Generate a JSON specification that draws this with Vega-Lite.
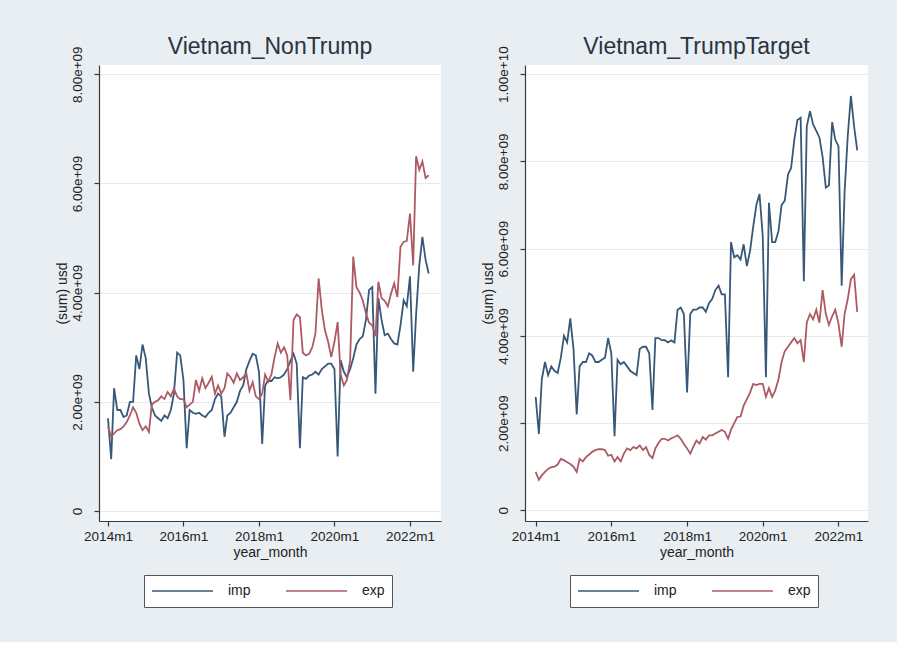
{
"$schema":"https://vega.github.io/schema/vega-lite/v6.json",
"background":"#e8eef2",
"padding":{"left":55,"top":35,"right":29,"bottom":34},
"datasets":{
"nontrump":[
{"d":"2014-01-01","s":"imp","v":1.70e9},{"d":"2014-01-01","s":"exp","v":1.55e9},
{"d":"2014-02-01","s":"imp","v":0.95e9},{"d":"2014-02-01","s":"exp","v":1.36e9},
{"d":"2014-03-01","s":"imp","v":2.25e9},{"d":"2014-03-01","s":"exp","v":1.42e9},
{"d":"2014-04-01","s":"imp","v":1.85e9},{"d":"2014-04-01","s":"exp","v":1.48e9},
{"d":"2014-05-01","s":"imp","v":1.85e9},{"d":"2014-05-01","s":"exp","v":1.50e9},
{"d":"2014-06-01","s":"imp","v":1.72e9},{"d":"2014-06-01","s":"exp","v":1.55e9},
{"d":"2014-07-01","s":"imp","v":1.75e9},{"d":"2014-07-01","s":"exp","v":1.63e9},
{"d":"2014-08-01","s":"imp","v":2.00e9},{"d":"2014-08-01","s":"exp","v":1.75e9},
{"d":"2014-09-01","s":"imp","v":2.00e9},{"d":"2014-09-01","s":"exp","v":1.90e9},
{"d":"2014-10-01","s":"imp","v":2.85e9},{"d":"2014-10-01","s":"exp","v":1.80e9},
{"d":"2014-11-01","s":"imp","v":2.60e9},{"d":"2014-11-01","s":"exp","v":1.60e9},
{"d":"2014-12-01","s":"imp","v":3.05e9},{"d":"2014-12-01","s":"exp","v":1.48e9},
{"d":"2015-01-01","s":"imp","v":2.80e9},{"d":"2015-01-01","s":"exp","v":1.55e9},
{"d":"2015-02-01","s":"imp","v":2.15e9},{"d":"2015-02-01","s":"exp","v":1.45e9},
{"d":"2015-03-01","s":"imp","v":1.90e9},{"d":"2015-03-01","s":"exp","v":1.95e9},
{"d":"2015-04-01","s":"imp","v":1.75e9},{"d":"2015-04-01","s":"exp","v":2.00e9},
{"d":"2015-05-01","s":"imp","v":1.70e9},{"d":"2015-05-01","s":"exp","v":2.03e9},
{"d":"2015-06-01","s":"imp","v":1.65e9},{"d":"2015-06-01","s":"exp","v":2.10e9},
{"d":"2015-07-01","s":"imp","v":1.75e9},{"d":"2015-07-01","s":"exp","v":2.05e9},
{"d":"2015-08-01","s":"imp","v":1.70e9},{"d":"2015-08-01","s":"exp","v":2.18e9},
{"d":"2015-09-01","s":"imp","v":1.85e9},{"d":"2015-09-01","s":"exp","v":2.10e9},
{"d":"2015-10-01","s":"imp","v":2.15e9},{"d":"2015-10-01","s":"exp","v":2.24e9},
{"d":"2015-11-01","s":"imp","v":2.90e9},{"d":"2015-11-01","s":"exp","v":2.10e9},
{"d":"2015-12-01","s":"imp","v":2.85e9},{"d":"2015-12-01","s":"exp","v":2.05e9},
{"d":"2016-01-01","s":"imp","v":2.40e9},{"d":"2016-01-01","s":"exp","v":2.05e9},
{"d":"2016-02-01","s":"imp","v":1.15e9},{"d":"2016-02-01","s":"exp","v":1.90e9},
{"d":"2016-03-01","s":"imp","v":1.85e9},{"d":"2016-03-01","s":"exp","v":1.95e9},
{"d":"2016-04-01","s":"imp","v":1.80e9},{"d":"2016-04-01","s":"exp","v":2.00e9},
{"d":"2016-05-01","s":"imp","v":1.78e9},{"d":"2016-05-01","s":"exp","v":2.40e9},
{"d":"2016-06-01","s":"imp","v":1.80e9},{"d":"2016-06-01","s":"exp","v":2.20e9},
{"d":"2016-07-01","s":"imp","v":1.75e9},{"d":"2016-07-01","s":"exp","v":2.43e9},
{"d":"2016-08-01","s":"imp","v":1.72e9},{"d":"2016-08-01","s":"exp","v":2.25e9},
{"d":"2016-09-01","s":"imp","v":1.80e9},{"d":"2016-09-01","s":"exp","v":2.35e9},
{"d":"2016-10-01","s":"imp","v":1.85e9},{"d":"2016-10-01","s":"exp","v":2.46e9},
{"d":"2016-11-01","s":"imp","v":2.05e9},{"d":"2016-11-01","s":"exp","v":2.15e9},
{"d":"2016-12-01","s":"imp","v":2.15e9},{"d":"2016-12-01","s":"exp","v":2.30e9},
{"d":"2017-01-01","s":"imp","v":2.10e9},{"d":"2017-01-01","s":"exp","v":2.15e9},
{"d":"2017-02-01","s":"imp","v":1.36e9},{"d":"2017-02-01","s":"exp","v":2.25e9},
{"d":"2017-03-01","s":"imp","v":1.75e9},{"d":"2017-03-01","s":"exp","v":2.52e9},
{"d":"2017-04-01","s":"imp","v":1.80e9},{"d":"2017-04-01","s":"exp","v":2.45e9},
{"d":"2017-05-01","s":"imp","v":1.90e9},{"d":"2017-05-01","s":"exp","v":2.35e9},
{"d":"2017-06-01","s":"imp","v":2.00e9},{"d":"2017-06-01","s":"exp","v":2.52e9},
{"d":"2017-07-01","s":"imp","v":2.20e9},{"d":"2017-07-01","s":"exp","v":2.40e9},
{"d":"2017-08-01","s":"imp","v":2.30e9},{"d":"2017-08-01","s":"exp","v":2.45e9},
{"d":"2017-09-01","s":"imp","v":2.60e9},{"d":"2017-09-01","s":"exp","v":2.52e9},
{"d":"2017-10-01","s":"imp","v":2.75e9},{"d":"2017-10-01","s":"exp","v":2.20e9},
{"d":"2017-11-01","s":"imp","v":2.88e9},{"d":"2017-11-01","s":"exp","v":2.36e9},
{"d":"2017-12-01","s":"imp","v":2.85e9},{"d":"2017-12-01","s":"exp","v":2.10e9},
{"d":"2018-01-01","s":"imp","v":2.55e9},{"d":"2018-01-01","s":"exp","v":2.05e9},
{"d":"2018-02-01","s":"imp","v":1.23e9},{"d":"2018-02-01","s":"exp","v":2.15e9},
{"d":"2018-03-01","s":"imp","v":2.30e9},{"d":"2018-03-01","s":"exp","v":2.50e9},
{"d":"2018-04-01","s":"imp","v":2.40e9},{"d":"2018-04-01","s":"exp","v":2.37e9},
{"d":"2018-05-01","s":"imp","v":2.38e9},{"d":"2018-05-01","s":"exp","v":2.50e9},
{"d":"2018-06-01","s":"imp","v":2.45e9},{"d":"2018-06-01","s":"exp","v":2.82e9},
{"d":"2018-07-01","s":"imp","v":2.43e9},{"d":"2018-07-01","s":"exp","v":3.07e9},
{"d":"2018-08-01","s":"imp","v":2.45e9},{"d":"2018-08-01","s":"exp","v":2.90e9},
{"d":"2018-09-01","s":"imp","v":2.50e9},{"d":"2018-09-01","s":"exp","v":3.00e9},
{"d":"2018-10-01","s":"imp","v":2.60e9},{"d":"2018-10-01","s":"exp","v":2.85e9},
{"d":"2018-11-01","s":"imp","v":2.75e9},{"d":"2018-11-01","s":"exp","v":2.03e9},
{"d":"2018-12-01","s":"imp","v":2.88e9},{"d":"2018-12-01","s":"exp","v":3.50e9},
{"d":"2019-01-01","s":"imp","v":2.70e9},{"d":"2019-01-01","s":"exp","v":3.60e9},
{"d":"2019-02-01","s":"imp","v":1.15e9},{"d":"2019-02-01","s":"exp","v":3.55e9},
{"d":"2019-03-01","s":"imp","v":2.45e9},{"d":"2019-03-01","s":"exp","v":2.90e9},
{"d":"2019-04-01","s":"imp","v":2.42e9},{"d":"2019-04-01","s":"exp","v":2.85e9},
{"d":"2019-05-01","s":"imp","v":2.48e9},{"d":"2019-05-01","s":"exp","v":2.88e9},
{"d":"2019-06-01","s":"imp","v":2.50e9},{"d":"2019-06-01","s":"exp","v":3.00e9},
{"d":"2019-07-01","s":"imp","v":2.55e9},{"d":"2019-07-01","s":"exp","v":3.25e9},
{"d":"2019-08-01","s":"imp","v":2.50e9},{"d":"2019-08-01","s":"exp","v":4.26e9},
{"d":"2019-09-01","s":"imp","v":2.60e9},{"d":"2019-09-01","s":"exp","v":3.68e9},
{"d":"2019-10-01","s":"imp","v":2.65e9},{"d":"2019-10-01","s":"exp","v":3.31e9},
{"d":"2019-11-01","s":"imp","v":2.70e9},{"d":"2019-11-01","s":"exp","v":3.10e9},
{"d":"2019-12-01","s":"imp","v":2.70e9},{"d":"2019-12-01","s":"exp","v":2.82e9},
{"d":"2020-01-01","s":"imp","v":2.60e9},{"d":"2020-01-01","s":"exp","v":3.10e9},
{"d":"2020-02-01","s":"imp","v":1.00e9},{"d":"2020-02-01","s":"exp","v":3.46e9},
{"d":"2020-03-01","s":"imp","v":2.76e9},{"d":"2020-03-01","s":"exp","v":2.50e9},
{"d":"2020-04-01","s":"imp","v":2.55e9},{"d":"2020-04-01","s":"exp","v":2.30e9},
{"d":"2020-05-01","s":"imp","v":2.45e9},{"d":"2020-05-01","s":"exp","v":2.40e9},
{"d":"2020-06-01","s":"imp","v":2.60e9},{"d":"2020-06-01","s":"exp","v":2.76e9},
{"d":"2020-07-01","s":"imp","v":2.80e9},{"d":"2020-07-01","s":"exp","v":4.66e9},
{"d":"2020-08-01","s":"imp","v":3.05e9},{"d":"2020-08-01","s":"exp","v":4.10e9},
{"d":"2020-09-01","s":"imp","v":3.15e9},{"d":"2020-09-01","s":"exp","v":4.00e9},
{"d":"2020-10-01","s":"imp","v":3.20e9},{"d":"2020-10-01","s":"exp","v":3.86e9},
{"d":"2020-11-01","s":"imp","v":3.50e9},{"d":"2020-11-01","s":"exp","v":3.62e9},
{"d":"2020-12-01","s":"imp","v":4.05e9},{"d":"2020-12-01","s":"exp","v":3.45e9},
{"d":"2021-01-01","s":"imp","v":4.10e9},{"d":"2021-01-01","s":"exp","v":3.40e9},
{"d":"2021-02-01","s":"imp","v":2.15e9},{"d":"2021-02-01","s":"exp","v":3.20e9},
{"d":"2021-03-01","s":"imp","v":3.90e9},{"d":"2021-03-01","s":"exp","v":4.20e9},
{"d":"2021-04-01","s":"imp","v":3.50e9},{"d":"2021-04-01","s":"exp","v":3.90e9},
{"d":"2021-05-01","s":"imp","v":3.22e9},{"d":"2021-05-01","s":"exp","v":3.85e9},
{"d":"2021-06-01","s":"imp","v":3.25e9},{"d":"2021-06-01","s":"exp","v":3.75e9},
{"d":"2021-07-01","s":"imp","v":3.15e9},{"d":"2021-07-01","s":"exp","v":3.98e9},
{"d":"2021-08-01","s":"imp","v":3.07e9},{"d":"2021-08-01","s":"exp","v":4.17e9},
{"d":"2021-09-01","s":"imp","v":3.05e9},{"d":"2021-09-01","s":"exp","v":3.92e9},
{"d":"2021-10-01","s":"imp","v":3.40e9},{"d":"2021-10-01","s":"exp","v":4.84e9},
{"d":"2021-11-01","s":"imp","v":3.86e9},{"d":"2021-11-01","s":"exp","v":4.93e9},
{"d":"2021-12-01","s":"imp","v":3.75e9},{"d":"2021-12-01","s":"exp","v":4.95e9},
{"d":"2022-01-01","s":"imp","v":4.30e9},{"d":"2022-01-01","s":"exp","v":5.45e9},
{"d":"2022-02-01","s":"imp","v":2.55e9},{"d":"2022-02-01","s":"exp","v":4.50e9},
{"d":"2022-03-01","s":"imp","v":3.60e9},{"d":"2022-03-01","s":"exp","v":6.50e9},
{"d":"2022-04-01","s":"imp","v":4.50e9},{"d":"2022-04-01","s":"exp","v":6.25e9},
{"d":"2022-05-01","s":"imp","v":5.02e9},{"d":"2022-05-01","s":"exp","v":6.40e9},
{"d":"2022-06-01","s":"imp","v":4.60e9},{"d":"2022-06-01","s":"exp","v":6.10e9},
{"d":"2022-07-01","s":"imp","v":4.35e9},{"d":"2022-07-01","s":"exp","v":6.15e9}
],
"trumptarget":[
{"d":"2014-01-01","s":"imp","v":2.60e9},{"d":"2014-01-01","s":"exp","v":0.88e9},
{"d":"2014-02-01","s":"imp","v":1.75e9},{"d":"2014-02-01","s":"exp","v":0.70e9},
{"d":"2014-03-01","s":"imp","v":3.00e9},{"d":"2014-03-01","s":"exp","v":0.80e9},
{"d":"2014-04-01","s":"imp","v":3.40e9},{"d":"2014-04-01","s":"exp","v":0.88e9},
{"d":"2014-05-01","s":"imp","v":3.10e9},{"d":"2014-05-01","s":"exp","v":0.95e9},
{"d":"2014-06-01","s":"imp","v":3.30e9},{"d":"2014-06-01","s":"exp","v":0.99e9},
{"d":"2014-07-01","s":"imp","v":3.20e9},{"d":"2014-07-01","s":"exp","v":1.00e9},
{"d":"2014-08-01","s":"imp","v":3.15e9},{"d":"2014-08-01","s":"exp","v":1.05e9},
{"d":"2014-09-01","s":"imp","v":3.50e9},{"d":"2014-09-01","s":"exp","v":1.18e9},
{"d":"2014-10-01","s":"imp","v":4.00e9},{"d":"2014-10-01","s":"exp","v":1.15e9},
{"d":"2014-11-01","s":"imp","v":3.85e9},{"d":"2014-11-01","s":"exp","v":1.10e9},
{"d":"2014-12-01","s":"imp","v":4.40e9},{"d":"2014-12-01","s":"exp","v":1.06e9},
{"d":"2015-01-01","s":"imp","v":3.70e9},{"d":"2015-01-01","s":"exp","v":1.00e9},
{"d":"2015-02-01","s":"imp","v":2.20e9},{"d":"2015-02-01","s":"exp","v":0.88e9},
{"d":"2015-03-01","s":"imp","v":3.30e9},{"d":"2015-03-01","s":"exp","v":1.18e9},
{"d":"2015-04-01","s":"imp","v":3.40e9},{"d":"2015-04-01","s":"exp","v":1.12e9},
{"d":"2015-05-01","s":"imp","v":3.40e9},{"d":"2015-05-01","s":"exp","v":1.22e9},
{"d":"2015-06-01","s":"imp","v":3.60e9},{"d":"2015-06-01","s":"exp","v":1.28e9},
{"d":"2015-07-01","s":"imp","v":3.55e9},{"d":"2015-07-01","s":"exp","v":1.34e9},
{"d":"2015-08-01","s":"imp","v":3.40e9},{"d":"2015-08-01","s":"exp","v":1.38e9},
{"d":"2015-09-01","s":"imp","v":3.40e9},{"d":"2015-09-01","s":"exp","v":1.40e9},
{"d":"2015-10-01","s":"imp","v":3.45e9},{"d":"2015-10-01","s":"exp","v":1.40e9},
{"d":"2015-11-01","s":"imp","v":3.50e9},{"d":"2015-11-01","s":"exp","v":1.38e9},
{"d":"2015-12-01","s":"imp","v":3.95e9},{"d":"2015-12-01","s":"exp","v":1.25e9},
{"d":"2016-01-01","s":"imp","v":3.60e9},{"d":"2016-01-01","s":"exp","v":1.27e9},
{"d":"2016-02-01","s":"imp","v":1.70e9},{"d":"2016-02-01","s":"exp","v":1.12e9},
{"d":"2016-03-01","s":"imp","v":3.45e9},{"d":"2016-03-01","s":"exp","v":1.22e9},
{"d":"2016-04-01","s":"imp","v":3.35e9},{"d":"2016-04-01","s":"exp","v":1.12e9},
{"d":"2016-05-01","s":"imp","v":3.40e9},{"d":"2016-05-01","s":"exp","v":1.30e9},
{"d":"2016-06-01","s":"imp","v":3.30e9},{"d":"2016-06-01","s":"exp","v":1.42e9},
{"d":"2016-07-01","s":"imp","v":3.20e9},{"d":"2016-07-01","s":"exp","v":1.38e9},
{"d":"2016-08-01","s":"imp","v":3.15e9},{"d":"2016-08-01","s":"exp","v":1.45e9},
{"d":"2016-09-01","s":"imp","v":3.10e9},{"d":"2016-09-01","s":"exp","v":1.42e9},
{"d":"2016-10-01","s":"imp","v":3.70e9},{"d":"2016-10-01","s":"exp","v":1.49e9},
{"d":"2016-11-01","s":"imp","v":3.75e9},{"d":"2016-11-01","s":"exp","v":1.38e9},
{"d":"2016-12-01","s":"imp","v":3.75e9},{"d":"2016-12-01","s":"exp","v":1.45e9},
{"d":"2017-01-01","s":"imp","v":3.60e9},{"d":"2017-01-01","s":"exp","v":1.27e9},
{"d":"2017-02-01","s":"imp","v":2.30e9},{"d":"2017-02-01","s":"exp","v":1.20e9},
{"d":"2017-03-01","s":"imp","v":3.95e9},{"d":"2017-03-01","s":"exp","v":1.42e9},
{"d":"2017-04-01","s":"imp","v":3.95e9},{"d":"2017-04-01","s":"exp","v":1.55e9},
{"d":"2017-05-01","s":"imp","v":3.90e9},{"d":"2017-05-01","s":"exp","v":1.64e9},
{"d":"2017-06-01","s":"imp","v":3.90e9},{"d":"2017-06-01","s":"exp","v":1.64e9},
{"d":"2017-07-01","s":"imp","v":3.85e9},{"d":"2017-07-01","s":"exp","v":1.60e9},
{"d":"2017-08-01","s":"imp","v":3.90e9},{"d":"2017-08-01","s":"exp","v":1.65e9},
{"d":"2017-09-01","s":"imp","v":3.85e9},{"d":"2017-09-01","s":"exp","v":1.68e9},
{"d":"2017-10-01","s":"imp","v":4.60e9},{"d":"2017-10-01","s":"exp","v":1.72e9},
{"d":"2017-11-01","s":"imp","v":4.65e9},{"d":"2017-11-01","s":"exp","v":1.64e9},
{"d":"2017-12-01","s":"imp","v":4.50e9},{"d":"2017-12-01","s":"exp","v":1.52e9},
{"d":"2018-01-01","s":"imp","v":2.70e9},{"d":"2018-01-01","s":"exp","v":1.42e9},
{"d":"2018-02-01","s":"imp","v":4.50e9},{"d":"2018-02-01","s":"exp","v":1.30e9},
{"d":"2018-03-01","s":"imp","v":4.60e9},{"d":"2018-03-01","s":"exp","v":1.45e9},
{"d":"2018-04-01","s":"imp","v":4.60e9},{"d":"2018-04-01","s":"exp","v":1.60e9},
{"d":"2018-05-01","s":"imp","v":4.65e9},{"d":"2018-05-01","s":"exp","v":1.53e9},
{"d":"2018-06-01","s":"imp","v":4.65e9},{"d":"2018-06-01","s":"exp","v":1.68e9},
{"d":"2018-07-01","s":"imp","v":4.55e9},{"d":"2018-07-01","s":"exp","v":1.62e9},
{"d":"2018-08-01","s":"imp","v":4.75e9},{"d":"2018-08-01","s":"exp","v":1.72e9},
{"d":"2018-09-01","s":"imp","v":4.85e9},{"d":"2018-09-01","s":"exp","v":1.72e9},
{"d":"2018-10-01","s":"imp","v":5.05e9},{"d":"2018-10-01","s":"exp","v":1.76e9},
{"d":"2018-11-01","s":"imp","v":5.15e9},{"d":"2018-11-01","s":"exp","v":1.80e9},
{"d":"2018-12-01","s":"imp","v":4.95e9},{"d":"2018-12-01","s":"exp","v":1.84e9},
{"d":"2019-01-01","s":"imp","v":4.95e9},{"d":"2019-01-01","s":"exp","v":1.80e9},
{"d":"2019-02-01","s":"imp","v":3.05e9},{"d":"2019-02-01","s":"exp","v":1.64e9},
{"d":"2019-03-01","s":"imp","v":6.15e9},{"d":"2019-03-01","s":"exp","v":1.85e9},
{"d":"2019-04-01","s":"imp","v":5.80e9},{"d":"2019-04-01","s":"exp","v":2.00e9},
{"d":"2019-05-01","s":"imp","v":5.85e9},{"d":"2019-05-01","s":"exp","v":2.14e9},
{"d":"2019-06-01","s":"imp","v":5.75e9},{"d":"2019-06-01","s":"exp","v":2.15e9},
{"d":"2019-07-01","s":"imp","v":6.10e9},{"d":"2019-07-01","s":"exp","v":2.40e9},
{"d":"2019-08-01","s":"imp","v":5.60e9},{"d":"2019-08-01","s":"exp","v":2.55e9},
{"d":"2019-09-01","s":"imp","v":5.95e9},{"d":"2019-09-01","s":"exp","v":2.70e9},
{"d":"2019-10-01","s":"imp","v":6.50e9},{"d":"2019-10-01","s":"exp","v":2.90e9},
{"d":"2019-11-01","s":"imp","v":7.00e9},{"d":"2019-11-01","s":"exp","v":2.87e9},
{"d":"2019-12-01","s":"imp","v":7.25e9},{"d":"2019-12-01","s":"exp","v":2.90e9},
{"d":"2020-01-01","s":"imp","v":6.30e9},{"d":"2020-01-01","s":"exp","v":2.90e9},
{"d":"2020-02-01","s":"imp","v":3.05e9},{"d":"2020-02-01","s":"exp","v":2.60e9},
{"d":"2020-03-01","s":"imp","v":7.05e9},{"d":"2020-03-01","s":"exp","v":2.80e9},
{"d":"2020-04-01","s":"imp","v":6.15e9},{"d":"2020-04-01","s":"exp","v":2.60e9},
{"d":"2020-05-01","s":"imp","v":6.15e9},{"d":"2020-05-01","s":"exp","v":2.75e9},
{"d":"2020-06-01","s":"imp","v":6.40e9},{"d":"2020-06-01","s":"exp","v":3.00e9},
{"d":"2020-07-01","s":"imp","v":7.00e9},{"d":"2020-07-01","s":"exp","v":3.40e9},
{"d":"2020-08-01","s":"imp","v":7.10e9},{"d":"2020-08-01","s":"exp","v":3.65e9},
{"d":"2020-09-01","s":"imp","v":7.70e9},{"d":"2020-09-01","s":"exp","v":3.75e9},
{"d":"2020-10-01","s":"imp","v":7.85e9},{"d":"2020-10-01","s":"exp","v":3.85e9},
{"d":"2020-11-01","s":"imp","v":8.50e9},{"d":"2020-11-01","s":"exp","v":3.95e9},
{"d":"2020-12-01","s":"imp","v":8.95e9},{"d":"2020-12-01","s":"exp","v":3.83e9},
{"d":"2021-01-01","s":"imp","v":9.00e9},{"d":"2021-01-01","s":"exp","v":3.90e9},
{"d":"2021-02-01","s":"imp","v":5.25e9},{"d":"2021-02-01","s":"exp","v":3.40e9},
{"d":"2021-03-01","s":"imp","v":8.80e9},{"d":"2021-03-01","s":"exp","v":4.30e9},
{"d":"2021-04-01","s":"imp","v":9.15e9},{"d":"2021-04-01","s":"exp","v":4.50e9},
{"d":"2021-05-01","s":"imp","v":8.85e9},{"d":"2021-05-01","s":"exp","v":4.38e9},
{"d":"2021-06-01","s":"imp","v":8.70e9},{"d":"2021-06-01","s":"exp","v":4.60e9},
{"d":"2021-07-01","s":"imp","v":8.55e9},{"d":"2021-07-01","s":"exp","v":4.30e9},
{"d":"2021-08-01","s":"imp","v":8.10e9},{"d":"2021-08-01","s":"exp","v":5.05e9},
{"d":"2021-09-01","s":"imp","v":7.40e9},{"d":"2021-09-01","s":"exp","v":4.50e9},
{"d":"2021-10-01","s":"imp","v":7.45e9},{"d":"2021-10-01","s":"exp","v":4.25e9},
{"d":"2021-11-01","s":"imp","v":8.90e9},{"d":"2021-11-01","s":"exp","v":4.45e9},
{"d":"2021-12-01","s":"imp","v":8.50e9},{"d":"2021-12-01","s":"exp","v":4.60e9},
{"d":"2022-01-01","s":"imp","v":8.35e9},{"d":"2022-01-01","s":"exp","v":4.28e9},
{"d":"2022-02-01","s":"imp","v":5.15e9},{"d":"2022-02-01","s":"exp","v":3.75e9},
{"d":"2022-03-01","s":"imp","v":7.30e9},{"d":"2022-03-01","s":"exp","v":4.50e9},
{"d":"2022-04-01","s":"imp","v":8.60e9},{"d":"2022-04-01","s":"exp","v":4.85e9},
{"d":"2022-05-01","s":"imp","v":9.50e9},{"d":"2022-05-01","s":"exp","v":5.30e9},
{"d":"2022-06-01","s":"imp","v":8.80e9},{"d":"2022-06-01","s":"exp","v":5.40e9},
{"d":"2022-07-01","s":"imp","v":8.25e9},{"d":"2022-07-01","s":"exp","v":4.55e9}
]
},
"spacing":40,
"resolve":{"scale":{"color":"independent","y":"independent","x":"independent"},"legend":{"color":"independent"}},
"hconcat":[
{
"title":{"text":"Vietnam_NonTrump"},
"width":342,"height":456,
"data":{"name":"nontrump"},
"mark":{"type":"line","strokeWidth":1.8},
"encoding":{
"x":{"field":"d","type":"temporal","scale":{"type":"utc","domain":[{"year":2013,"month":10,"date":6,"utc":true},{"year":2022,"month":10,"date":28,"utc":true}]},
"axis":{"title":"year_month","format":"%Ym1","grid":false,"values":[{"year":2014,"month":1,"date":1,"utc":true},{"year":2016,"month":1,"date":1,"utc":true},{"year":2018,"month":1,"date":1,"utc":true},{"year":2020,"month":1,"date":1,"utc":true},{"year":2022,"month":1,"date":1,"utc":true}]}},
"y":{"field":"v","type":"quantitative","scale":{"domain":[-1.83e8,8.17e9],"nice":false,"zero":false},
"axis":{"title":"(sum) usd","values":[0,2e9,4e9,6e9,8e9],"labelExpr":"datum.value == 0 ? '0' : replace(format(datum.value, '.2e'), 'e+9', 'e+09')"}},
"color":{"field":"s","type":"nominal","scale":{"domain":["imp","exp"],"range":["#375878","#ad5a63"]},
"legend":{"title":null,"orient":"none","legendX":45,"legendY":510,"direction":"horizontal"}}
}
},
{
"title":{"text":"Vietnam_TrumpTarget"},
"width":343,"height":456,
"data":{"name":"trumptarget"},
"mark":{"type":"line","strokeWidth":1.8},
"encoding":{
"x":{"field":"d","type":"temporal","scale":{"type":"utc","domain":[{"year":2013,"month":9,"date":20,"utc":true},{"year":2022,"month":10,"date":13,"utc":true}]},
"axis":{"title":"year_month","format":"%Ym1","grid":false,"values":[{"year":2014,"month":1,"date":1,"utc":true},{"year":2016,"month":1,"date":1,"utc":true},{"year":2018,"month":1,"date":1,"utc":true},{"year":2020,"month":1,"date":1,"utc":true},{"year":2022,"month":1,"date":1,"utc":true}]}},
"y":{"field":"v","type":"quantitative","scale":{"domain":[-2.45e8,1.021e10],"nice":false,"zero":false},
"axis":{"title":"(sum) usd","values":[0,2e9,4e9,6e9,8e9,1e10],"labelExpr":"datum.value == 0 ? '0' : replace(format(datum.value, '.2e'), 'e+9', 'e+09')"}},
"color":{"field":"s","type":"nominal","scale":{"domain":["imp","exp"],"range":["#375878","#ad5a63"]},
"legend":{"title":null,"orient":"none","legendX":45,"legendY":510,"direction":"horizontal"}}
}
}
],
"config":{
"font":"Liberation Sans",
"view":{"stroke":null,"fill":"white"},
"axis":{"domainColor":"#3a3a3a","domainWidth":1.2,"tickColor":"#3a3a3a","tickSize":5,"tickWidth":1.2,"labelFontSize":13.5,"labelColor":"#222222","titleFontSize":14,"titleFontWeight":"normal","titleColor":"#222222","gridColor":"#e4eaee","gridWidth":1,"labelOverlap":false},
"axisY":{"labelAngle":-90,"labelAlign":"center","labelBaseline":"bottom","labelPadding":10,"titlePadding":1},
"axisX":{"labelPadding":3,"titlePadding":3,"labelFlush":false},
"title":{"fontSize":23,"fontWeight":"normal","color":"#2a3440","offset":-13,"anchor":"middle","frame":"group","baseline":"bottom"},
"legend":{"symbolType":"stroke","symbolSize":3721,"symbolStrokeWidth":1.5,"clipHeight":18,"labelFontSize":14,"labelColor":"#222222","strokeColor":"#555555","fillColor":"white","padding":7,"columnPadding":34,"labelOffset":14}
}
}
